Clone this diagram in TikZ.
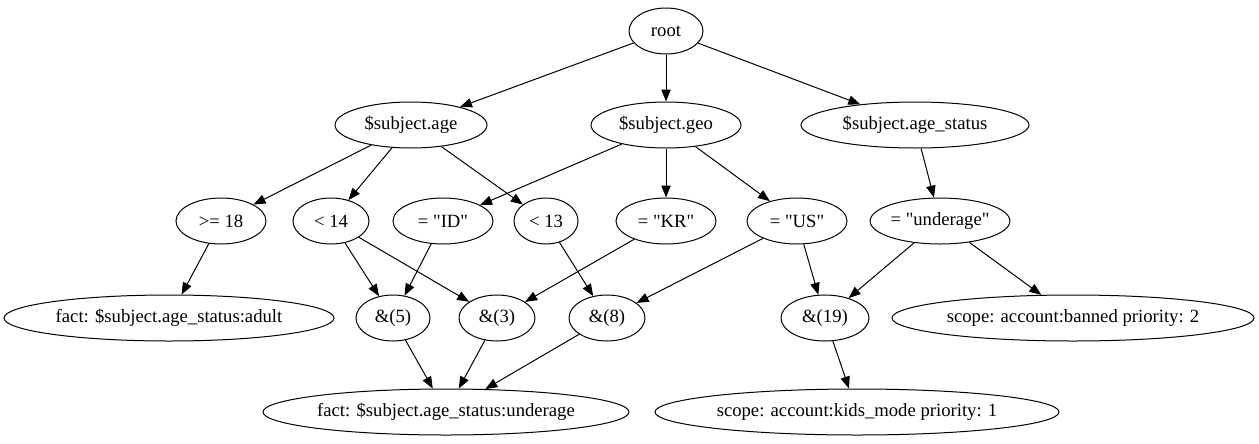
\documentclass[tikz,border=0pt]{standalone}
\usepackage{fontspec}
\setmainfont{Liberation Serif}[Ligatures=TeXOff]
\usetikzlibrary{shapes.geometric,arrows.meta}
\begin{document}
\begin{tikzpicture}[x=0.75pt,y=-0.75pt,
  nd/.style={draw,ellipse,line width=0.75pt,inner sep=0pt,minimum height=34.5pt,font=\fontsize{14}{16}\selectfont},
  ed/.style={line width=0.75pt,-{Triangle[length=9pt,width=7pt]}}]
\useasboundingbox (0,0) rectangle (1259,443);
\node[nd,minimum width=74*0.75pt] (root) at (666,31) {root};
\node[nd,minimum width=152*0.75pt] (age) at (411,125) {\$subject.age};
\node[nd,minimum width=150*0.75pt] (geo) at (666,125) {\$subject.geo};
\node[nd,minimum width=228*0.75pt] (ast) at (915,125) {\$subject.age\_status};
\node[nd,minimum width=90*0.75pt] (ge18) at (221,221) {>= 18};
\node[nd,minimum width=76*0.75pt] (lt14) at (331,221) {< 14};
\node[nd,minimum width=100*0.75pt] (id) at (443,221) {= "ID"};
\node[nd,minimum width=64*0.75pt] (lt13) at (546,221) {< 13};
\node[nd,minimum width=100*0.75pt] (kr) at (666,221) {= "KR"};
\node[nd,minimum width=100*0.75pt] (us) at (797,221) {= "US"};
\node[nd,minimum width=136*0.75pt] (und) at (940,221) {= "underage"};
\node[nd,minimum width=330*0.75pt] (adult) at (169,318) {fact: \$subject.age\_status:adult};
\node[nd,minimum width=74*0.75pt] (a5) at (393,318) {\&(5)};
\node[nd,minimum width=76*0.75pt] (a3) at (497,318) {\&(3)};
\node[nd,minimum width=76*0.75pt] (a8) at (607,318) {\&(8)};
\node[nd,minimum width=88*0.75pt] (a19) at (825,318) {\&(19)};
\node[nd,minimum width=362*0.75pt] (ban) at (1073,318) {scope: account:banned priority: 2};
\node[nd,minimum width=366*0.75pt] (funder) at (446,412) {fact: \$subject.age\_status:underage};
\node[nd,minimum width=404*0.75pt] (kids) at (857,412) {scope: account:kids\_mode priority: 1};
\draw[ed] (root) -- (age);
\draw[ed] (root) -- (geo);
\draw[ed] (root) -- (ast);
\draw[ed] (age) -- (ge18);
\draw[ed] (age) -- (lt14);
\draw[ed] (age) -- (lt13);
\draw[ed] (geo) -- (id);
\draw[ed] (geo) -- (kr);
\draw[ed] (geo) -- (us);
\draw[ed] (ast) -- (und);
\draw[ed] (ge18) -- (adult);
\draw[ed] (lt14) -- (a5);
\draw[ed] (lt14) -- (a3);
\draw[ed] (id) -- (a5);
\draw[ed] (lt13) -- (a8);
\draw[ed] (kr) -- (a3);
\draw[ed] (us) -- (a8);
\draw[ed] (us) -- (a19);
\draw[ed] (und) -- (a19);
\draw[ed] (und) -- (ban);
\draw[ed] (a5) -- (funder);
\draw[ed] (a3) -- (funder);
\draw[ed] (a8) -- (funder);
\draw[ed] (a19) -- (kids);
\end{tikzpicture}
\end{document}
